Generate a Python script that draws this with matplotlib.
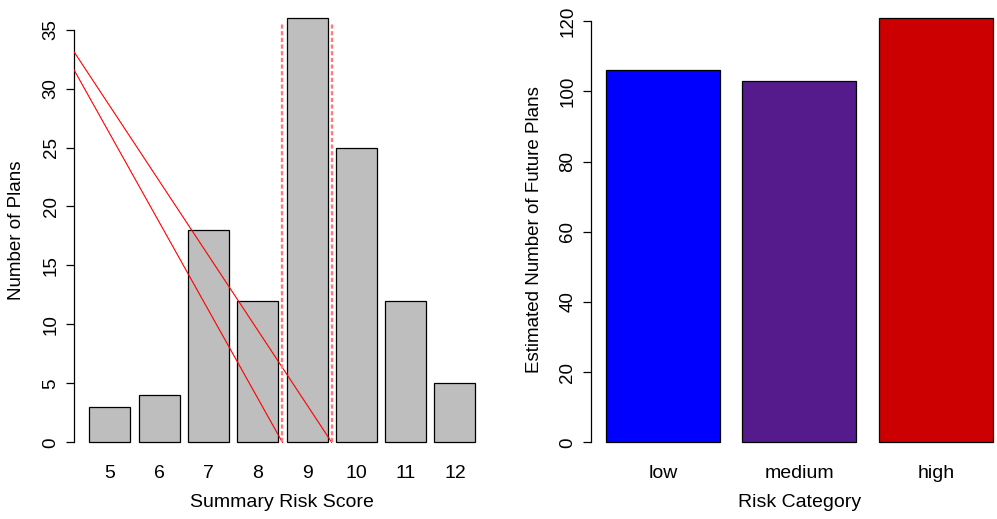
import matplotlib
matplotlib.use("Agg")
import matplotlib.pyplot as plt
import numpy as np

plt.rcParams["font.family"] = ["Liberation Sans", "DejaVu Sans"]
plt.rcParams["lines.scale_dashes"] = False

# Distribution of summary risk scores
scores = ["5", "6", "7", "8", "9", "10", "11", "12"]
plan_counts = [3, 4, 18, 12, 36, 25, 12, 5]

# Projected future plans per risk category
categories = ["low", "medium", "high"]
future_plans = [106, 103, 121]
category_colors = ["#0000FF", "#551A8B", "#CD0000"]

# Reference lines on the score histogram (x in bar-position units)
diag_start_x = [-0.176, -0.176]
diag_start_y = [33.13, 31.6]
diag_end_x = [6.1, 4.9]
diag_end_y = [0, 0]
cutoff_x = [4.9, 6.1]
cutoff_top = 35.5

W, H = 997, 519
fig = plt.figure(figsize=(W / 100, H / 100), dpi=100)

BAR_W, SPACE = 1.0, 0.2
TXT = 14
ROT = 13.5


def r_barplot(ax, values, labels, colors, yticks):
    n = len(values)
    lefts = SPACE + np.arange(n) * (BAR_W + SPACE)
    centers = lefts + BAR_W / 2
    ax.bar(centers, values, width=BAR_W, color=colors, edgecolor="black",
           linewidth=0.9, zorder=2)
    lo, hi = SPACE, lefts[-1] + BAR_W
    pad = 0.04 * (hi - lo)
    ax.set_xlim(lo - pad, hi + pad)
    ymax = max(values)
    ax.set_ylim(-0.04 * ymax, ymax * 1.04)
    for s in ("top", "right", "bottom"):
        ax.spines[s].set_visible(False)
    ax.spines["left"].set_bounds(yticks[0], yticks[-1])
    ax.spines["left"].set_linewidth(0.9)
    ax.set_yticks(yticks)
    ax.set_yticklabels([str(t) for t in yticks], rotation=90, va="center",
                       fontsize=ROT)
    ax.tick_params(axis="y", length=5.8, width=0.9, pad=4.5)
    ax.set_xticks(centers)
    ax.set_xticklabels(labels, fontsize=TXT)
    ax.tick_params(axis="x", length=0, pad=4)
    return centers


ax_b = 459.3
bottom = (H - ax_b) / H
height = 458.5 / H

ax1 = fig.add_axes([73.9 / W, bottom, 417 / W, height])
r_barplot(ax1, plan_counts, scores, "#BEBEBE", list(range(0, 36, 5)))
ax1.set_xlabel("Summary Risk Score", fontsize=TXT, labelpad=9)
ax1.set_ylabel("Number of Plans", fontsize=ROT, labelpad=13)

for x0, y0, x1, y1 in zip(diag_start_x, diag_start_y, diag_end_x, diag_end_y):
    ax1.plot([x0, x1], [y0, y1], color="red", linewidth=0.8, zorder=3)
for cx in cutoff_x:
    ax1.plot([cx, cx], [0, cutoff_top], color="#FF7A7A", linewidth=1.7,
             dashes=(3.0, 1.8), zorder=3)

ax2 = fig.add_axes([590.5 / W, bottom, 417.7 / W, height])
r_barplot(ax2, future_plans, categories, category_colors,
          list(range(0, 121, 20)))
ax2.set_xlabel("Risk Category", fontsize=TXT, labelpad=9)
ax2.set_ylabel("Estimated Number of Future Plans", fontsize=ROT, labelpad=12)

fig.savefig("out.png", dpi=100)
